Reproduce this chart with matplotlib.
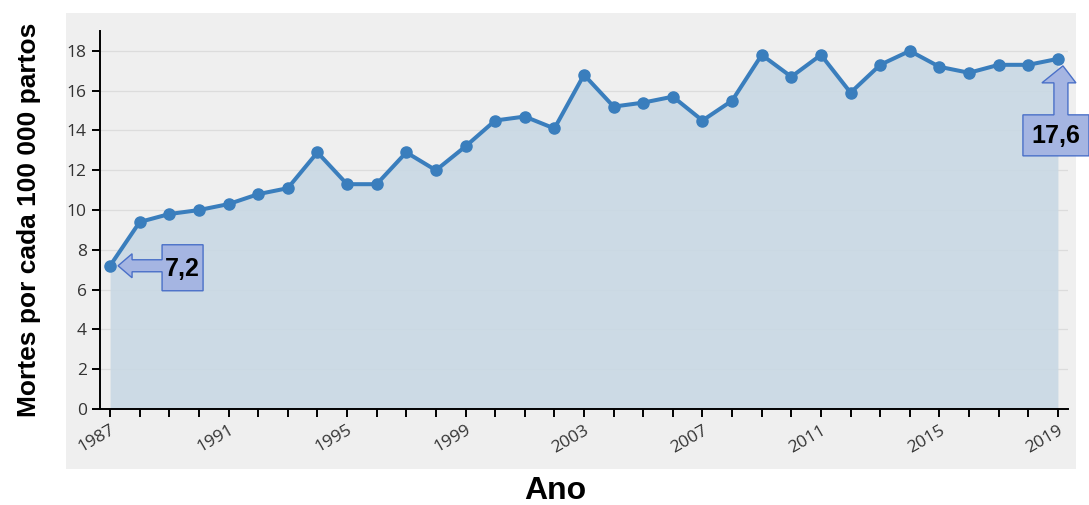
import matplotlib.pyplot as plt
import numpy as np
from matplotlib.patches import Rectangle, Polygon
from matplotlib.transforms import ScaledTranslation

years = list(range(1987, 2020))
rates = [7.2, 9.4, 9.8, 10.0, 10.3, 10.8, 11.1, 12.9, 11.3, 11.3,
         12.9, 12.0, 13.2, 14.5, 14.7, 14.1, 16.8, 15.2, 15.4, 15.7,
         14.5, 15.5, 17.8, 16.7, 17.8, 15.9, 17.3, 18.0, 17.2, 16.9,
         17.3, 17.3, 17.6]
label_years = list(range(1987, 2020, 4))
y_ticks = list(range(0, 20, 2))

W, H = 1089, 505
fig = plt.figure(figsize=(W / 100, H / 100), dpi=100)
fig.patch.set_facecolor('white')

# grey panel behind the plot
fig.patches.append(Rectangle((66 / W, (H - 469) / H), (1076 - 66) / W, (469 - 13) / H,
                             transform=fig.transFigure, facecolor='#efefef',
                             edgecolor='none', zorder=-5))

ax = fig.add_axes([100 / W, (H - 409) / H, (1068 - 100) / W, (409 - 31) / H])
ax.patch.set_alpha(0)

line_c = '#3a7ebd'
ax.fill_between(years, rates, 0, color='#c9d8e4', alpha=0.9, lw=0, zorder=1)
ax.plot(years, rates, color=line_c, lw=2.9, marker='o', ms=8, zorder=3)

ax.set_xlim(1986.66, 2019.34)
ax.set_ylim(0, 19)
ax.set_yticks(y_ticks)
ax.set_xticks(years)
ax.set_xticklabels([str(y) if y in label_years else '' for y in years])
ax.grid(axis='y', color='#dcdcdc', lw=0.9)
ax.set_axisbelow(True)

for s in ['top', 'right']:
    ax.spines[s].set_visible(False)
for s in ['left', 'bottom']:
    ax.spines[s].set_linewidth(1.4)
ax.tick_params(length=6, width=1.4, colors='black', labelcolor='#333333',
               labelsize=12.5)
for lab in ax.get_yticklabels() + ax.get_xticklabels():
    lab.set_family('Open Sans')
plt.setp(ax.get_xticklabels(), rotation=30, ha='right', rotation_mode='anchor')

ax.set_ylabel('Mortes por cada 100 000 partos', family='Liberation Sans',
              fontweight='bold', fontsize=19)
ax.yaxis.set_label_coords(-0.061, 0.5)
ax.set_xlabel('Ano', family='Liberation Sans', fontweight='bold', fontsize=23)
ax.xaxis.set_label_coords(0.47, -0.178)


def callout(x, y, pts, text, tx, ty):
    tr = fig.dpi_scale_trans + ScaledTranslation(x, y, ax.transData)
    poly = Polygon(np.array(pts) / 100.0, closed=True, transform=tr,
                   facecolor='#a5b5e2', edgecolor='#4a70c8', lw=1.0,
                   clip_on=False, zorder=5)
    ax.add_patch(poly)
    ax.text(tx / 100.0, ty / 100.0, text, transform=tr, ha='center', va='center',
            family='Liberation Sans', fontweight='bold', fontsize=18,
            color='black', zorder=6, clip_on=False)


# left callout at first point
callout(years[0], rates[0],
        [(8, 0), (22, 12), (22, 6), (52, 6), (52, 21), (93, 21), (93, -25),
         (52, -25), (52, -6), (22, -6), (22, -12)],
        '7,2', 72, -3)
# right callout at last point
callout(years[-1], rates[-1],
        [(5, -7), (18, -24), (10, -24), (10, -56), (31, -56), (31, -97),
         (-35, -97), (-35, -56), (-4, -56), (-4, -24), (-16, -24)],
        '17,6', -2, -77)

fig.savefig('out.png', dpi=100)
